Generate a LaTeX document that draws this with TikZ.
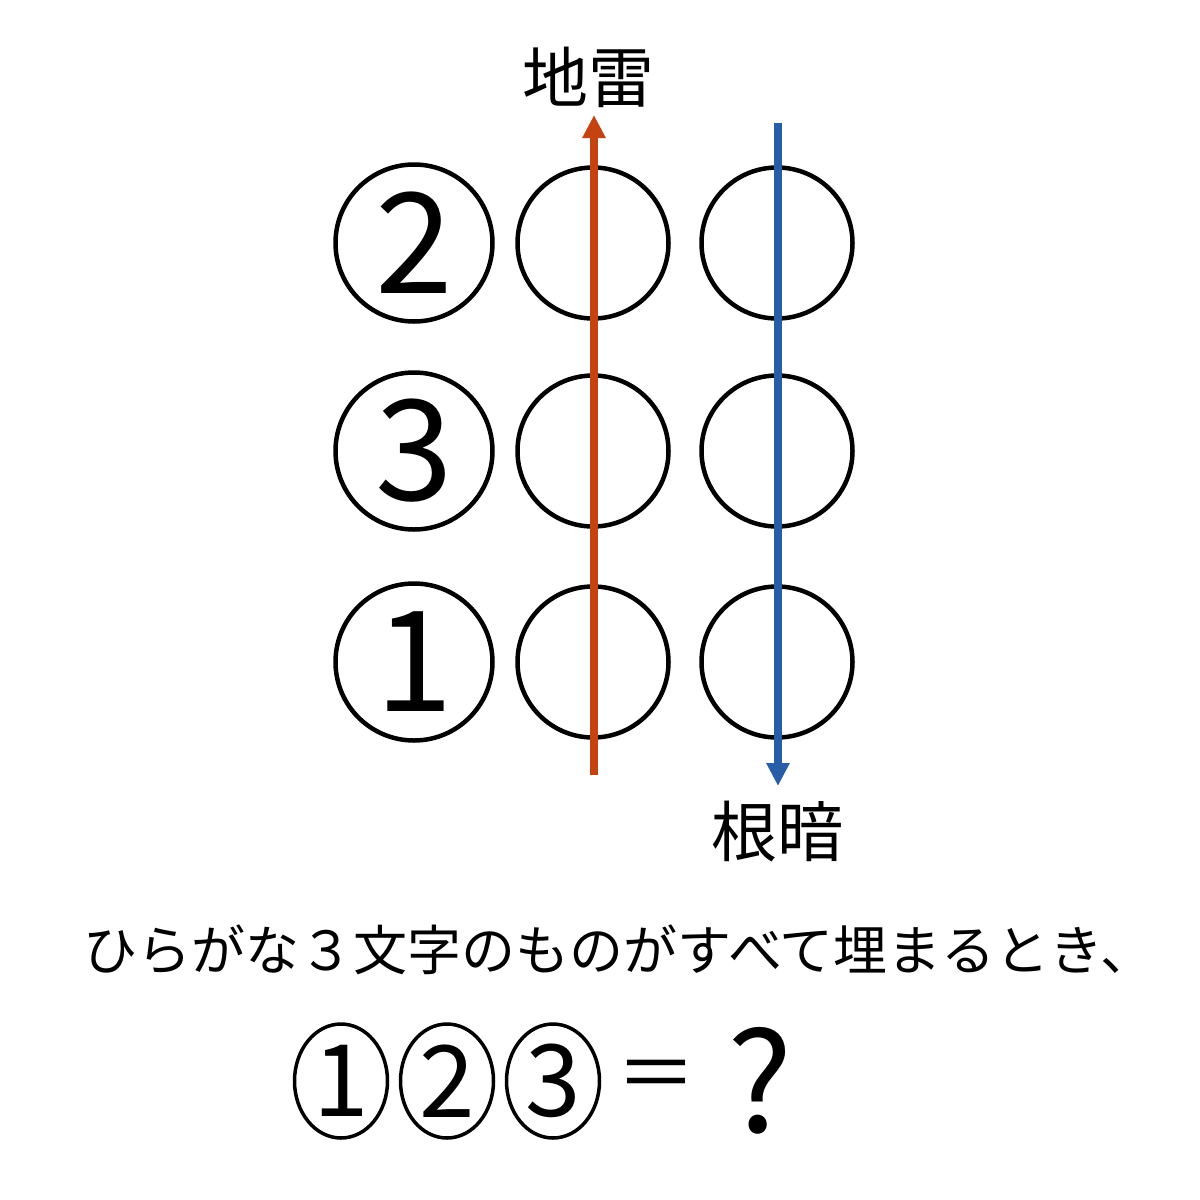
\documentclass[tikz,border=0pt]{standalone}
\usepackage{fontspec}
\setmainfont{Noto Sans CJK JP}
\usetikzlibrary{positioning,arrows.meta,shapes.geometric}
\definecolor{jiraiclr}{RGB}{197,66,17}
\definecolor{nekuraclr}{RGB}{40,94,168}
\tikzset{
  cell/.style={circle,draw,line width=4.5pt,minimum size=151pt,inner sep=0pt,
               font=\fontsize{140}{140}\selectfont},
  numcell/.style={cell,minimum size=157pt},
  oval/.style={ellipse,draw,line width=3.5pt,minimum width=93pt,minimum height=114pt,
               inner sep=0pt,font=\fontsize{100}{100}\selectfont},
  wordlbl/.style={inner sep=0pt,font=\fontsize{66}{66}\selectfont},
  wordarrow/.style={-{Triangle[width=22pt,length=23pt]},line width=7.5pt},
}

\begin{document}
\begin{tikzpicture}[x=1pt,y=-1pt]
\useasboundingbox (0,0) rectangle (1200,1200);

% grid of cells
\node[numcell] (c1) at (414,243) {2};
\node[numcell] (c2) at (414,451) {3};
\node[numcell] (c3) at (414,662) {1};
\foreach \r/\y in {1/243,2/451,3/662}{
  \node[cell] (m\r) at (593,\y) {};
  \node[cell] (r\r) at (777,\y) {};
}

% vertical words
\node[wordlbl] (jirai) at (588,77) {地雷};
\node[wordlbl] (nekura) at (777,832) {根暗};
\coordinate (jstart) at (594,775);
\coordinate (jend) at (594,115);
\coordinate (nstart) at (778,123);
\coordinate (nend) at (778,786);
\draw[wordarrow, jiraiclr] (jstart) -- (jend);
\draw[wordarrow, nekuraclr] (nstart) -- (nend);

% question
\node[inner sep=0pt,font=\fontsize{54}{54}\selectfont] (rule) at (619,950)
  {ひらがな３文字のものがすべて埋まるとき、};
\node[oval] (q1) at (341,1081) {1};
\node[oval] (q2) at (447,1081) {2};
\node[oval] (q3) at (553,1081) {3};
\node[inner sep=0pt,font=\fontsize{80}{80}\selectfont] (eq) at (656,1081) {＝};
\node[inner sep=0pt,font=\fontsize{138}{138}\selectfont] (qm) at (760,1081) {?};
\end{tikzpicture}
\end{document}
